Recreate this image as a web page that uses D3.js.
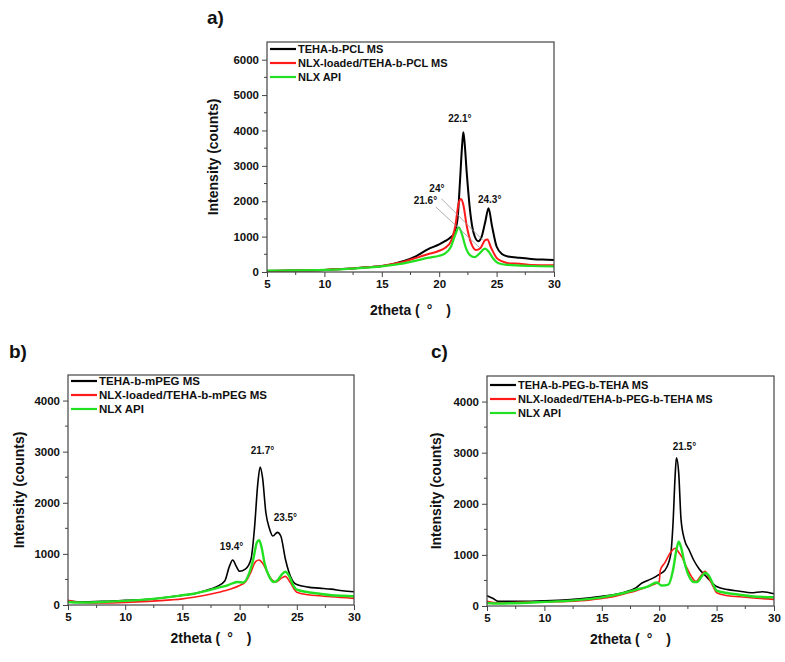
<!DOCTYPE html>
<html><head><meta charset="utf-8">
<script src="https://cdn.jsdelivr.net/npm/d3@7"></script>
<style>
body{margin:0;background:#fff}
text{font-family:"Liberation Sans",Arial,sans-serif;font-weight:bold;fill:#111}
</style></head>
<body><svg id="chart" width="785" height="662"></svg>
<script>
// ---------- data ----------
const xTickValues = [5, 10, 15, 20, 25, 30];
const yTicksA = [0, 1000, 2000, 3000, 4000, 5000, 6000];
const yTicksBC = [0, 1000, 2000, 3000, 4000];
const xTitle = "2theta (\u2002\u00B0\u2002\u2002)";
const yTitle = "Intensity (counts)";

// panel a
const aLegend = ["TEHA-b-PCL MS", "NLX-loaded/TEHA-b-PCL MS", "NLX API"];
const aBlackX = [5,7,10,12,14,15,16,17,18,19,20,20.5,21,21.3,21.6,21.8,22.0,22.1,22.2,22.4,22.7,23.0,23.4,23.7,24.0,24.3,24.6,25.0,25.5,26,27,28,29,30];
const aBlackY = [30,40,60,90,140,170,230,320,450,640,780,870,980,1100,1500,2500,3600,3950,3700,2800,1700,1100,870,1000,1400,1800,1300,720,500,440,400,370,350,340];
const aRedX = [5,7,10,12,14,15,16,17,18,19,20,20.5,21,21.4,21.7,21.9,22.1,22.4,22.8,23.2,23.6,24.0,24.2,24.5,25.0,25.5,26,27,28,30];
const aRedY = [30,40,60,90,140,170,230,300,400,500,600,680,850,1300,1950,2060,1900,1300,800,620,680,900,920,700,400,300,250,230,200,190];
const aGreenX = [5,7,10,12,14,15,16,17,18,19,20,20.5,21,21.4,21.7,22.0,22.3,22.7,23.1,23.5,24.0,24.3,24.7,25.0,25.5,26,28,30];
const aGreenY = [40,45,60,90,130,160,200,250,320,400,460,520,700,1050,1260,1050,700,470,420,520,660,580,380,280,220,200,170,160];
const aPeakText = ["22.1\u00B0", "24\u00B0", "21.6\u00B0", "24.3\u00B0"];
const aPeakX = [21.8, 19.8, 18.8, 24.4];
const aPeakY = [4250, 2260, 1930, 1950];

// panel b
const bLegend = ["TEHA-b-mPEG MS", "NLX-loaded/TEHA-b-mPEG MS", "NLX API"];
const bBlackX = [5,6,8,10,12,14,15,16,17,18,18.7,19.1,19.4,19.7,20,20.5,21,21.3,21.6,21.8,22.0,22.3,22.6,22.9,23.3,23.6,24,24.3,24.7,25,26,27,28,29,30];
const bBlackY = [80,60,70,90,110,160,190,220,280,360,470,750,880,760,660,700,900,1500,2400,2700,2500,1800,1500,1350,1420,1350,900,650,450,400,350,330,310,280,260];
const bRedX = [5,6,8,10,12,14,15,16,17,18,19,20,20.5,21,21.4,21.7,22.0,22.4,22.8,23.2,23.7,24.0,24.4,25,26,27,28,30];
const bRedY = [90,50,40,50,70,100,120,150,190,240,300,380,450,650,850,880,820,650,500,450,530,560,450,250,200,180,160,130];
const bGreenX = [5,6,8,10,12,14,15,16,17,18,19,19.8,20.3,20.8,21.2,21.5,21.7,21.9,22.2,22.6,23.0,23.3,23.7,24.0,24.3,24.7,25,26,27,28,30];
const bGreenY = [60,50,60,80,110,160,190,220,270,330,390,450,440,600,900,1220,1270,1150,800,550,450,480,600,650,580,380,300,250,220,190,170];
const bPeakText = ["21.7\u00B0", "23.5\u00B0", "19.4\u00B0"];
const bPeakX = [22.0, 24.0, 19.3];
const bPeakY = [2950, 1650, 1080];

// panel c
const cLegend = ["TEHA-b-PEG-b-TEHA MS", "NLX-loaded/TEHA-b-PEG-b-TEHA MS", "NLX API"];
const cBlackX = [5,5.5,6,8,10,12,14,15,16,17,18,18.5,19,19.5,20,20.5,21,21.2,21.4,21.5,21.7,21.9,22.2,22.6,23,23.5,24,24.5,25,26,27,28,29,30];
const cBlackY = [200,150,90,90,100,120,160,190,220,270,360,450,500,550,620,700,1000,1600,2600,2900,2600,1700,1300,1100,900,720,600,480,380,320,290,260,280,240];
const cRedX = [5,6,8,10,12,14,15,16,17,18,19,19.8,20,20.1,20.5,21,21.4,21.7,22,22.4,22.8,23.2,23.6,24.0,24.3,24.7,25,26,27,28,30];
const cRedY = [90,60,70,80,90,120,150,180,240,300,380,450,480,700,850,1050,1130,1050,950,750,580,480,580,680,560,380,260,200,180,160,130];
const cGreenX = [5,6,8,10,12,14,15,16,17,18,19,19.8,20.2,20.8,21.2,21.5,21.7,21.9,22.2,22.6,23.0,23.3,23.7,24,24.3,24.7,25,26,27,28,30];
const cGreenY = [60,50,60,80,100,140,170,210,260,320,380,460,400,420,700,1100,1260,1150,850,580,470,470,580,650,600,420,300,250,220,190,170];
const cPeakText = ["21.5\u00B0"];
const cPeakX = [22.2];
const cPeakY = [3050];

const seriesColors = ["#000000", "#ff1a1a", "#22e022"];

// ---------- drawing ----------
const svg = d3.select("#chart");

function zip(xs, ys){ return xs.map((x,i)=>({x, y: ys[i]})); }

function panel(cfg){
  const g = svg.append("g");
  const x = d3.scaleLinear().domain([5,30]).range([cfg.left, cfg.right]);
  const y = d3.scaleLinear().domain([0, cfg.ymax]).range([cfg.bottom, cfg.top]);

  g.append("text").attr("x", cfg.labelX).attr("y", cfg.labelY)
    .style("font-size","19px").text(cfg.letter);

  const minorX = d3.range(5, 30.01, 2.5).filter(v => v % 5 !== 0);
  const minorY = d3.range(500, cfg.ymax, 1000);
  g.selectAll(null).data(minorX).join("line")
    .attr("x1", d=>x(d)).attr("x2", d=>x(d))
    .attr("y1", cfg.bottom).attr("y2", cfg.bottom+3)
    .attr("stroke","#444").attr("stroke-width",1);
  g.selectAll(null).data(minorY).join("line")
    .attr("y1", d=>y(d)).attr("y2", d=>y(d))
    .attr("x1", cfg.left).attr("x2", cfg.left-3)
    .attr("stroke","#444").attr("stroke-width",1);

  const xa = g.append("g").attr("transform",`translate(0,${cfg.bottom})`)
    .call(d3.axisBottom(x).tickValues(xTickValues).tickSize(5).tickPadding(3).tickFormat(d3.format("d")));
  const ya = g.append("g").attr("transform",`translate(${cfg.left},0)`)
    .call(d3.axisLeft(y).tickValues(cfg.yTicks).tickSize(5).tickPadding(3).tickFormat(d3.format("d")));
  [xa, ya].forEach(a=>{
    a.select(".domain").remove();
    a.selectAll("line").attr("stroke","#444");
    a.selectAll("text").style("font-size","11.5px").style("font-family","'Liberation Sans',Arial,sans-serif").style("font-weight","bold").attr("fill","#111");
  });

  const line = d3.line().x(d=>x(d.x)).y(d=>y(d.y)).curve(d3.curveMonotoneX);
  cfg.series.forEach((s,i)=>{
    g.append("path").datum(zip(s[0], s[1]))
      .attr("fill","none").attr("stroke", seriesColors[i])
      .attr("stroke-width", cfg.widths[i]).attr("stroke-linejoin","round")
      .attr("d", line);
  });

  g.append("rect").attr("x", cfg.left).attr("y", cfg.top)
    .attr("width", cfg.right-cfg.left).attr("height", cfg.bottom-cfg.top)
    .attr("fill","none").attr("stroke","#444").attr("stroke-width",1.2);

  cfg.legend.forEach((t,i)=>{
    const ly = cfg.top + cfg.legendTop + i*cfg.legendStep;
    g.append("line").attr("x1", cfg.left+3).attr("x2", cfg.left+29)
      .attr("y1", ly).attr("y2", ly)
      .attr("stroke", seriesColors[i]).attr("stroke-width", 2.2);
    g.append("text").attr("x", cfg.left+31).attr("y", ly+4)
      .style("font-size", cfg.legendFont).text(t);
  });

  cfg.peaks[0].forEach((t,i)=>{
    g.append("text").attr("x", x(cfg.peaks[1][i])).attr("y", y(cfg.peaks[2][i]))
      .attr("text-anchor","middle").style("font-size","10px").text(t);
  });

  g.append("text").attr("x", (cfg.left+cfg.right)/2).attr("y", cfg.xTitleY)
    .attr("text-anchor","middle").style("font-size","14px").text(xTitle);
  g.append("text")
    .attr("transform", `translate(${cfg.yTitleX},${(cfg.top+cfg.bottom)/2}) rotate(-90)`)
    .attr("text-anchor","middle").style("font-size","14px").text(yTitle);

  return {g, x, y};
}

const pa = panel({letter:"a)", labelX:207, labelY:24, left:267, right:554, top:42, bottom:272, ymax:6500,
  yTicks:yTicksA, legend:aLegend, legendTop:7, legendStep:14, legendFont:"11px",
  series:[[aBlackX,aBlackY],[aRedX,aRedY],[aGreenX,aGreenY]], widths:[2,2,2.2],
  peaks:[aPeakText,aPeakX,aPeakY], xTitleY:315, yTitleX:218});

// leader lines in panel a
const leadFromX = [20.2, 19.7], leadFromY = [2070, 1840], leadToX = [23.8, 23.55], leadToY = [900, 680];
leadFromX.forEach((v,i)=>{
  pa.g.append("line").attr("x1", pa.x(v)).attr("y1", pa.y(leadFromY[i]))
    .attr("x2", pa.x(leadToX[i])).attr("y2", pa.y(leadToY[i]))
    .attr("stroke","#999").attr("stroke-width",0.8);
});

panel({letter:"b)", labelX:9, labelY:358, left:68, right:354, top:375, bottom:605, ymax:4500,
  yTicks:yTicksBC, legend:bLegend, legendTop:6, legendStep:14, legendFont:"11.5px",
  series:[[bBlackX,bBlackY],[bRedX,bRedY],[bGreenX,bGreenY]], widths:[1.6,1.6,2.4],
  peaks:[bPeakText,bPeakX,bPeakY], xTitleY:643, yTitleX:24});

panel({letter:"c)", labelX:431, labelY:358, left:487, right:774, top:376, bottom:606, ymax:4500,
  yTicks:yTicksBC, legend:cLegend, legendTop:9, legendStep:14, legendFont:"11px",
  series:[[cBlackX,cBlackY],[cRedX,cRedY],[cGreenX,cGreenY]], widths:[1.6,1.6,2.4],
  peaks:[cPeakText,cPeakX,cPeakY], xTitleY:644, yTitleX:441});
</script></body></html>
